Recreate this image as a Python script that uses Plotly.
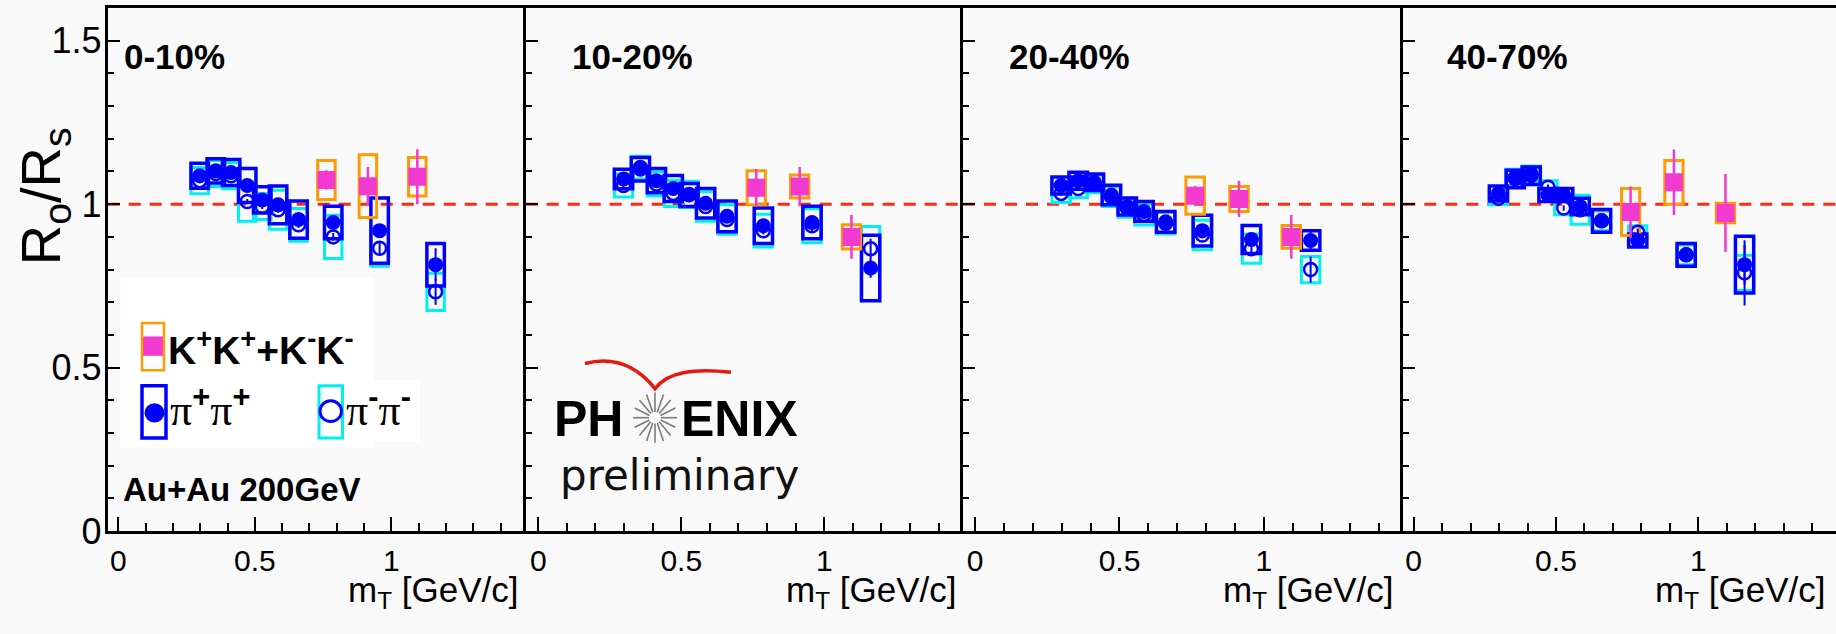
import math
import plotly.graph_objects as go

W, H = 1836, 634

# ---------------- data ----------------
centralities = ["0-10%", "10-20%", "20-40%", "40-70%"]
mt_pi = [0.298, 0.357, 0.413, 0.472, 0.527, 0.585, 0.660, 0.787, 0.957, 1.162]
mt_k = [0.762, 0.914, 1.095]

# pi+pi+ : Ro/Rs, statistical error, systematic half-height
pip_1 = [1.087, 1.102, 1.097, 1.057, 1.013, 0.998, 0.953, 0.944, 0.919, 0.815]
pip_2 = [1.077, 1.107, 1.072, 1.048, 1.028, 1.003, 0.963, 0.934, 0.944, 0.805]
pip_3 = [1.057, 1.072, 1.067, 1.028, 0.993, 0.978, 0.946, 0.919, 0.892, 0.889]
pip_4 = [1.033, 1.077, 1.087, 1.028, 1.028, 0.993, 0.949, 0.889, 0.845, 0.815]
pip_err_1 = [0.008, 0.008, 0.008, 0.008, 0.008, 0.009, 0.010, 0.012, 0.020, 0.050]
pip_err_2 = [0.008, 0.008, 0.008, 0.008, 0.008, 0.009, 0.010, 0.012, 0.018, 0.030]
pip_err_3 = [0.007, 0.007, 0.007, 0.007, 0.008, 0.008, 0.009, 0.011, 0.015, 0.030]
pip_err_4 = [0.008, 0.008, 0.008, 0.008, 0.008, 0.009, 0.010, 0.012, 0.015, 0.060]
pip_sys_1 = [0.038, 0.037, 0.040, 0.052, 0.040, 0.058, 0.057, 0.050, 0.100, 0.065]
pip_sys_2 = [0.030, 0.036, 0.037, 0.040, 0.035, 0.045, 0.047, 0.054, 0.050, 0.100]
pip_sys_3 = [0.026, 0.026, 0.025, 0.030, 0.026, 0.030, 0.032, 0.047, 0.043, 0.030]
pip_sys_4 = [0.023, 0.027, 0.027, 0.020, 0.020, 0.025, 0.035, 0.020, 0.035, 0.087]

# pi-pi-
pim_1 = [1.072, 1.094, 1.087, 1.008, 0.993, 0.983, 0.937, 0.900, 0.865, 0.732]
pim_2 = [1.057, 1.112, 1.062, 1.033, 1.030, 0.993, 0.953, 0.919, 0.934, 0.864]
pim_3 = [1.033, 1.048, 1.062, 1.023, 0.988, 0.968, 0.942, 0.906, 0.864, 0.800]
pim_4 = [1.018, 1.082, 1.092, 1.052, 0.988, 0.983, 0.949, 0.914, 0.845, 0.790]
pim_err_1 = [0.008, 0.008, 0.008, 0.008, 0.008, 0.009, 0.010, 0.012, 0.020, 0.040]
pim_err_2 = [0.008, 0.008, 0.008, 0.008, 0.008, 0.009, 0.010, 0.012, 0.018, 0.030]
pim_err_3 = [0.007, 0.007, 0.007, 0.007, 0.008, 0.008, 0.009, 0.011, 0.015, 0.040]
pim_err_4 = [0.008, 0.008, 0.008, 0.008, 0.008, 0.009, 0.010, 0.012, 0.015, 0.100]
pim_sys_1 = [0.040, 0.040, 0.040, 0.060, 0.040, 0.060, 0.050, 0.066, 0.055, 0.057]
pim_sys_2 = [0.035, 0.035, 0.037, 0.040, 0.040, 0.045, 0.045, 0.050, 0.052, 0.068]
pim_sys_3 = [0.028, 0.028, 0.027, 0.030, 0.028, 0.032, 0.033, 0.045, 0.045, 0.040]
pim_sys_4 = [0.020, 0.025, 0.025, 0.020, 0.020, 0.044, 0.030, 0.020, 0.030, 0.054]

# K+K+ + K-K-
k_1 = [1.074, 1.055, 1.084]
k_2 = [1.050, 1.054, 0.900]
k_3 = [1.026, 1.016, 0.900]
k_4 = [0.976, 1.067, 0.973]
k_err_1 = [0.030, 0.059, 0.084]
k_err_2 = [0.057, 0.060, 0.067]
k_err_3 = [0.030, 0.055, 0.067]
k_err_4 = [0.078, 0.100, 0.119]
k_sys_1 = [0.060, 0.096, 0.059]
k_sys_2 = [0.052, 0.035, 0.037]
k_sys_3 = [0.057, 0.038, 0.035]
k_sys_4 = [0.072, 0.067, 0.030]

x_ticks = [0, 0.5, 1]
x_tick_text = ["0", "0.5", "1"]
y_ticks = [0, 0.5, 1, 1.5]
y_tick_text = ["0", "0.5", "1", "1.5"]

pip = [pip_1, pip_2, pip_3, pip_4]
pip_err = [pip_err_1, pip_err_2, pip_err_3, pip_err_4]
pip_sys = [pip_sys_1, pip_sys_2, pip_sys_3, pip_sys_4]
pim = [pim_1, pim_2, pim_3, pim_4]
pim_err = [pim_err_1, pim_err_2, pim_err_3, pim_err_4]
pim_sys = [pim_sys_1, pim_sys_2, pim_sys_3, pim_sys_4]
kk = [k_1, k_2, k_3, k_4]
kk_err = [k_err_1, k_err_2, k_err_3, k_err_4]
kk_sys = [k_sys_1, k_sys_2, k_sys_3, k_sys_4]

# ---------------- style ----------------
BLUE = "#0000ff"
CYAN = "#00f0f0"
ORANGE = "#ff9a00"
PINK = "#f23ad0"
RED = "#ff2a10"
BG = "#f9f9f9"
SANS = "Liberation Sans, Arial, sans-serif"

# panel frames in pixels
frame_left = [107.7, 525.7, 963.0, 1403.3]
frame_right = [525.7, 963.0, 1403.3, 1836.0]
x_ranges = [[-0.039, 1.492], [-0.044, 1.485], [-0.042, 1.483], [-0.036, 1.483]]
title_right = [521, 959, 1396, 1828]
frame_top, frame_bottom = 8.3, 549.3
BOX_HW = 0.032


def px(x):
    return x / W


def py(y):
    return 1 - y / H


fig = go.Figure()
shapes = []
annotations = []

for i in range(4):
    sfx = "" if i == 0 else str(i + 1)
    xref, yref = "x" + sfx, "y" + sfx

    # reference line at unity
    shapes.append(dict(type="line", xref=xref + " domain", yref=yref,
                       x0=0, x1=1, y0=1, y1=1, layer="below",
                       line=dict(color=RED, width=3, dash="12px,9px")))

    # systematic boxes
    for xs, ys, ss, col, lw in [(mt_pi, pim[i], pim_sys[i], CYAN, 3),
                                (mt_pi, pip[i], pip_sys[i], BLUE, 3.5),
                                (mt_k, kk[i], kk_sys[i], ORANGE, 3)]:
        for xv, yv, sv in zip(xs, ys, ss):
            shapes.append(dict(type="rect", xref=xref, yref=yref,
                               x0=xv - BOX_HW, x1=xv + BOX_HW,
                               y0=yv - sv, y1=yv + sv, layer="below",
                               line=dict(color=col, width=lw)))

    fig.add_trace(go.Scatter(
        x=mt_pi, y=pim[i], mode="markers", xaxis=xref, yaxis=yref,
        showlegend=False,
        marker=dict(symbol="circle-open", size=13, color=BLUE,
                    line=dict(color=BLUE, width=2.5)),
        error_y=dict(type="data", array=pim_err[i], color=BLUE,
                     thickness=2, width=0)))
    fig.add_trace(go.Scatter(
        x=mt_pi, y=pip[i], mode="markers", xaxis=xref, yaxis=yref,
        showlegend=False,
        marker=dict(symbol="circle", size=15, color=BLUE),
        error_y=dict(type="data", array=pip_err[i], color=BLUE,
                     thickness=2, width=0)))
    fig.add_trace(go.Scatter(
        x=mt_k, y=kk[i], mode="markers", xaxis=xref, yaxis=yref,
        showlegend=False,
        marker=dict(symbol="square", size=18, color=PINK),
        error_y=dict(type="data", array=kk_err[i], color=PINK,
                     thickness=2.5, width=0)))

    xa = dict(domain=[px(frame_left[i]), px(frame_right[i])],
              range=x_ranges[i], anchor=yref,
              showgrid=False, zeroline=False,
              showline=True, mirror=True, linecolor="black", linewidth=3,
              ticks="inside", ticklen=14, tickwidth=2, tickcolor="black",
              tickvals=x_ticks, ticktext=x_tick_text,
              tickfont=dict(family=SANS, size=30, color="black"),
              ticklabelstandoff=1,
              minor=dict(ticks="inside", ticklen=8, tickwidth=2,
                         tickcolor="black", dtick=0.1, tick0=0, showgrid=False))
    ya = dict(domain=[py(frame_bottom), py(frame_top)],
              range=[0, 1.6], anchor=xref,
              showgrid=False, zeroline=False,
              showline=True, mirror=False, linecolor="black", linewidth=3,
              ticks="inside", ticklen=12, tickwidth=2, tickcolor="black",
              tickvals=y_ticks, ticktext=y_tick_text,
              showticklabels=(i == 0),
              tickfont=dict(family=SANS, size=36, color="black"),
              ticklabelstandoff=-4,
              minor=dict(ticks="inside", ticklen=6, tickwidth=2,
                         tickcolor="black", dtick=0.1, tick0=0, showgrid=False))
    fig.update_layout(**{"xaxis" + sfx: xa, "yaxis" + sfx: ya})

    # x-axis title, right aligned near the end of each axis
    annotations.append(dict(
        xref="paper", yref="paper", x=px(title_right[i]), y=py(612),
        xanchor="right", yanchor="middle", showarrow=False,
        text="m<sub>T</sub>&#160;[GeV/c]",
        font=dict(family=SANS, size=35, color="black")))

# centrality labels
label_left = [122, 570, 1006.7, 1445]
for lab, xl in zip(centralities, label_left):
    annotations.append(dict(xref="paper", yref="paper", x=px(xl), y=py(58),
                            xanchor="left", yanchor="middle", showarrow=False,
                            text="<b>" + lab + "</b>",
                            font=dict(family=SANS, size=35, color="black")))

# y-axis title
annotations.append(dict(xref="paper", yref="paper", x=px(44), y=py(203),
                        xanchor="center", yanchor="middle", showarrow=False,
                        textangle=-90, text="R<sub>o</sub>/R<sub>s</sub>",
                        font=dict(family=SANS, size=56, color="black")))

# collision system
annotations.append(dict(xref="paper", yref="paper", x=px(121), y=py(506),
                        xanchor="left", yanchor="middle", showarrow=False,
                        text="<b>Au+Au 200GeV</b>",
                        font=dict(family=SANS, size=33, color="black")))

# ---------------- legend ----------------
shapes.append(dict(type="rect", xref="paper", yref="paper", layer="above",
                   x0=px(120.5), x1=px(373.6), y0=py(463.3), y1=py(286.7),
                   fillcolor="white", line=dict(width=0)))
shapes.append(dict(type="rect", xref="paper", yref="paper", layer="above",
                   x0=px(373.6), x1=px(420), y0=py(456.7), y1=py(393.3),
                   fillcolor="white", line=dict(width=0)))
# kaon entry
shapes.append(dict(type="rect", xref="paper", yref="paper", layer="above",
                   x0=px(142), x1=px(164), y0=py(368), y1=py(348),
                   fillcolor=PINK, line=dict(width=0)))
shapes.append(dict(type="rect", xref="paper", yref="paper", layer="above",
                   x0=px(142), x1=px(164), y0=py(383), y1=py(334),
                   line=dict(color=ORANGE, width=2.5)))
# pi+ entry
shapes.append(dict(type="rect", xref="paper", yref="paper", layer="above",
                   x0=px(142), x1=px(166), y0=py(453), y1=py(399),
                   line=dict(color=BLUE, width=3.5)))
shapes.append(dict(type="circle", xref="paper", yref="paper", layer="above",
                   x0=px(144.5), x1=px(164.5), y0=py(437), y1=py(417),
                   fillcolor=BLUE, line=dict(width=0)))
# pi- entry
shapes.append(dict(type="rect", xref="paper", yref="paper", layer="above",
                   x0=px(319), x1=px(342.5), y0=py(453), y1=py(399),
                   line=dict(color=CYAN, width=3)))
shapes.append(dict(type="circle", xref="paper", yref="paper", layer="above",
                   x0=px(320), x1=px(341.5), y0=py(436), y1=py(414.5),
                   line=dict(color=BLUE, width=3)))

annotations.append(dict(xref="paper", yref="paper", x=px(166), y=py(359),
                        xanchor="left", yanchor="middle", showarrow=False,
                        text="<b>K<sup>+</sup>K<sup>+</sup>+K<sup>-</sup>K<sup>-</sup></b>",
                        font=dict(family=SANS, size=39, color="black")))
PI = "<span style='font-family:Liberation Serif'>&#960;</span>"
annotations.append(dict(xref="paper", yref="paper", x=px(168), y=py(421),
                        xanchor="left", yanchor="middle", showarrow=False,
                        text=PI + "<sup><b>+</b></sup>" + PI + "<sup><b>+</b></sup>",
                        font=dict(family=SANS, size=44, color="black")))
annotations.append(dict(xref="paper", yref="paper", x=px(344), y=py(421),
                        xanchor="left", yanchor="middle", showarrow=False,
                        text=PI + "<sup><b>-</b></sup>" + PI + "<sup><b>-</b></sup>",
                        font=dict(family=SANS, size=44, color="black")))

# ---------------- PHENIX preliminary logo ----------------
arc = "M {},{} C {},{} {},{} {},{} C {},{} {},{} {},{}".format(
    px(585), py(376), px(615), py(368), px(638), py(380), px(655), py(402),
    px(668), py(384), px(695), py(381), px(731), py(385))
shapes.append(dict(type="path", xref="paper", yref="paper", path=arc,
                   layer="above", line=dict(color="#e8180c", width=3.5)))
cx, cy = 655, 432
for k in range(16):
    a = 2 * math.pi * k / 16
    shapes.append(dict(type="line", xref="paper", yref="paper", layer="above",
                       x0=px(cx + 6 * math.cos(a)), y0=py(cy + 6 * math.sin(a)),
                       x1=px(cx + 22 * math.cos(a)), y1=py(cy + 26 * math.sin(a)),
                       line=dict(color="#7a7a7a", width=1.6)))
annotations.append(dict(xref="paper", yref="paper", x=px(625), y=py(433),
                        xanchor="right", yanchor="middle", showarrow=False,
                        text="<b>PH</b>",
                        font=dict(family=SANS, size=50, color="black")))
annotations.append(dict(xref="paper", yref="paper", x=px(679), y=py(433),
                        xanchor="left", yanchor="middle", showarrow=False,
                        text="<b>ENIX</b>",
                        font=dict(family=SANS, size=50, color="black")))
annotations.append(dict(xref="paper", yref="paper", x=px(558), y=py(492),
                        xanchor="left", yanchor="middle", showarrow=False,
                        text="preliminary",
                        font=dict(family="DejaVu Sans, sans-serif", size=42,
                                  color="#111111")))

fig.update_layout(
    width=W, height=H,
    margin=dict(l=0, r=0, t=0, b=0),
    paper_bgcolor=BG, plot_bgcolor=BG,
    showlegend=False,
    shapes=shapes, annotations=annotations,
)

fig.write_html("out.html")
